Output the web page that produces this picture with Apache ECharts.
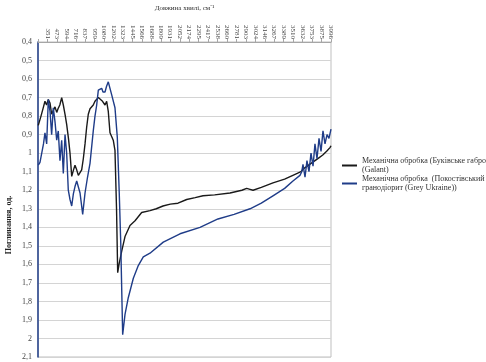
<!DOCTYPE html>
<html>
<head>
<meta charset="utf-8">
<script src="https://cdn.jsdelivr.net/npm/echarts@6/dist/echarts.min.js"></script>
<style>
  html, body { margin: 0; padding: 0; background: #fff; }
  #chart { width: 486px; height: 362px; }
</style>
</head>
<body>
<div id="chart"></div>
<script>
// wavenumber tick labels (cm-1)
const tickLabels = ["351", "473", "594", "716", "837", "959", "1080", "1202", "1323", "1445",
  "1566", "1688", "1809", "1931", "2052", "2174", "2295", "2417", "2538", "2660",
  "2781", "2903", "3024", "3146", "3267", "3389", "3510", "3632", "3753", "3875", "3996"];
const xMin = 229.5;
const xStep = 121.5;
const xMax = 3996;

// series 1: gabbro (black)
const gabbroWn = [233, 268, 300, 319, 340, 362, 384, 405, 426, 448, 470, 487, 510, 534, 555, 577, 598,
  621, 641, 663, 686, 705, 727, 748, 770, 791, 812, 834, 855, 876, 898, 920, 940, 962, 984, 1005, 1026,
  1059, 1091, 1112, 1133, 1155, 1176, 1197, 1219, 1239, 1254, 1271, 1305, 1348, 1412, 1477, 1562, 1669,
  1750, 1836, 1930, 2029, 2141, 2250, 2351, 2500, 2698, 2850, 2912, 2935, 2955, 2994, 3100, 3250, 3400,
  3555, 3610, 3640, 3662, 3690, 3715, 3740, 3765, 3790, 3815, 3840, 3865, 3890, 3915, 3940, 3965, 3983, 3996];
const gabbroVal = [0.85, 0.80, 0.75, 0.72, 0.74, 0.71, 0.73, 0.79, 0.77, 0.75, 0.78, 0.76, 0.74, 0.70, 0.74, 0.79, 0.845,
  0.92, 1.00, 1.125, 1.09, 1.065, 1.09, 1.12, 1.11, 1.09, 1.03, 0.95, 0.86, 0.79, 0.76, 0.75, 0.74, 0.72, 0.71, 0.70, 0.695,
  0.72, 0.74, 0.72, 0.775, 0.89, 0.91, 0.93, 0.985, 1.30, 1.645, 1.60, 1.53, 1.45, 1.39, 1.365, 1.32, 1.31,
  1.30, 1.285, 1.275, 1.27, 1.25, 1.24, 1.23, 1.225, 1.215, 1.20, 1.19, 1.20, 1.195, 1.20, 1.185, 1.16, 1.14,
  1.11, 1.10, 1.085, 1.09, 1.07, 1.075, 1.055, 1.06, 1.04, 1.05, 1.025, 1.03, 1.01, 1.0, 0.99, 0.985, 0.97, 0.96];

// series 2: granodiorite (blue)
const graniteWn = [233, 255, 277, 300, 319, 341, 362, 384, 405, 426, 448, 470, 490, 512, 534, 555, 577, 598,
  619, 641, 663, 684, 705, 727, 748, 770, 804, 834, 866, 898, 940, 962, 984, 1005, 1026, 1048, 1065, 1091,
  1110, 1133, 1155, 1177, 1219, 1249, 1274, 1293, 1318, 1348, 1390, 1455, 1515, 1583, 1669, 1840, 2055,
  2312, 2543, 2750, 2955, 3100, 3250, 3400, 3507, 3597, 3620, 3636, 3662, 3687, 3713, 3739, 3765, 3790,
  3816, 3842, 3868, 3893, 3919, 3945, 3970, 3996];
const graniteVal = [1.065, 1.05, 1.04, 0.95, 0.89, 0.95, 0.71, 0.775, 0.90, 0.755, 0.83, 0.93, 0.88, 1.04, 0.93, 1.11, 0.90, 1.00,
  1.20, 1.25, 1.285, 1.22, 1.18, 1.15, 1.145, 1.215, 1.33, 1.215, 1.13, 1.055, 0.88, 0.80, 0.74, 0.66, 0.66, 0.65, 0.67, 0.67,
  0.64, 0.615, 0.65, 0.685, 0.755, 0.915, 1.215, 1.48, 1.98, 1.87, 1.78, 1.675, 1.61, 1.56, 1.54, 1.48, 1.435,
  1.40, 1.355, 1.33, 1.30, 1.27, 1.23, 1.19, 1.15, 1.12, 1.10, 1.06, 1.13, 1.04, 1.10, 1.00, 1.07, 0.95,
  1.03, 0.92, 0.99, 0.88, 0.95, 0.90, 0.92, 0.87];

const gabbroName = "Механічна обробка (Буківське габро (Galant))";
const graniteName = "Механічна обробка  (Покостівський гранодіорит (Grey Ukraine))";

const chart = echarts.init(document.getElementById("chart"));
const font = "Liberation Serif";

const zip = (xs, ys) => xs.map((x, i) => [x, ys[i]]);

const option = {
  animation: false,
  textStyle: { fontFamily: font },
  grid: {
    left: 38, right: 155, top: 36, bottom: 5,
    show: true, borderColor: "#bfbfbf", borderWidth: 1
  },
  legend: {
    orient: "vertical",
    left: 342, top: 152,
    padding: 0,
    itemGap: -9,
    itemWidth: 15, itemHeight: 2,
    icon: "rect",
    data: [gabbroName, graniteName],
    formatter: (name) => name === gabbroName
      ? "Механічна обробка (Буківське габро\n(Galant)"
      : "Механічна обробка  (Покостівський\nгранодіорит (Grey Ukraine))",
    textStyle: { fontFamily: font, fontSize: 8, color: "#333", lineHeight: 9, padding: [9, 0, 0, 0] }
  },
  xAxis: {
    type: "value",
    position: "top",
    min: xMin, max: xMax, interval: xStep,
    name: "Довжина хвилі, см⁻¹",
    nameLocation: "middle",
    nameGap: 30,
    nameTextStyle: { fontFamily: font, fontSize: 7, color: "#333" },
    axisLine: { lineStyle: { color: "#a6a6a6" } },
    axisTick: { show: true, length: 3, lineStyle: { color: "#a6a6a6" } },
    splitLine: { show: false },
    axisLabel: {
      rotate: 90, fontSize: 7, color: "#444", margin: 3,
      fontFamily: font,
      formatter: (v) => {
        const idx = Math.round((v - xMin) / xStep) - 1;
        return idx >= 0 ? (tickLabels[idx] || "") : "";
      }
    }
  },
  yAxis: {
    type: "value",
    inverse: true,
    min: 0.4, max: 2.1, interval: 0.1,
    axisLine: { show: true, lineStyle: { color: "#1f3c88", width: 1.5 } },
    axisTick: { show: false },
    splitLine: { lineStyle: { color: "#d4d4d4" } },
    axisLabel: {
      fontSize: 8, color: "#444", margin: 6, fontFamily: font,
      formatter: (v) => String(+v.toFixed(1)).replace(".", ",")
    }
  },
  graphic: [{
    type: "text",
    x: 9, y: 225, rotation: Math.PI / 2,
    style: {
      text: "Поглинання, од.",
      fontFamily: font, fontSize: 8, fontWeight: "bold", fill: "#222",
      align: "center", verticalAlign: "middle"
    }
  }],
  series: [
    {
      name: gabbroName, type: "line", showSymbol: false,
      data: zip(gabbroWn, gabbroVal),
      lineStyle: { color: "#1a1a1a", width: 1.4 },
      itemStyle: { color: "#1a1a1a" }
    },
    {
      name: graniteName, type: "line", showSymbol: false,
      data: zip(graniteWn, graniteVal),
      lineStyle: { color: "#1f3c88", width: 1.4 },
      itemStyle: { color: "#1f3c88" }
    }
  ]
};
chart.setOption(option);
</script>
</body>
</html>
